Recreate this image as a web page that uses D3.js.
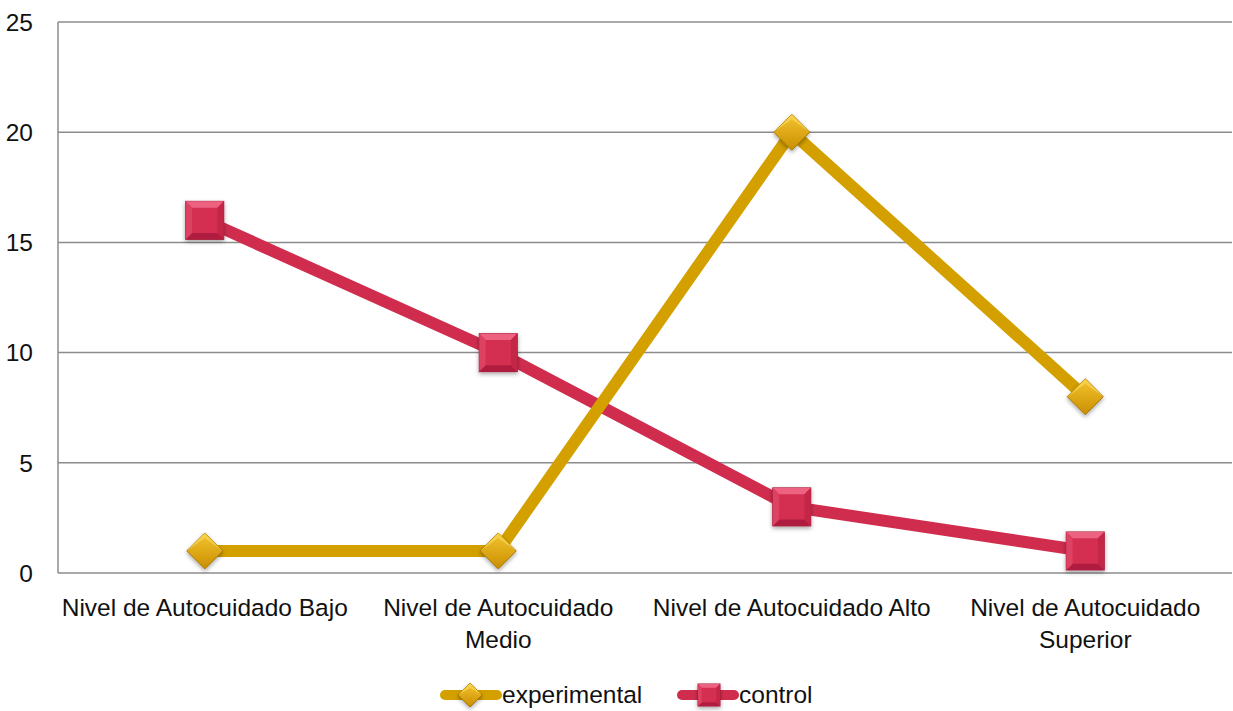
<!DOCTYPE html>
<html><head><meta charset="utf-8">
<script src="https://cdn.jsdelivr.net/npm/d3@7"></script>
<style>body{margin:0;background:#fff}svg{display:block}</style>
</head><body>
<svg id="c" width="1233" height="711"></svg>
<script>
const categories = ["Nivel de Autocuidado Bajo", "Nivel de Autocuidado Medio", "Nivel de Autocuidado Alto", "Nivel de Autocuidado Superior"];
const categoryLines = [["Nivel de Autocuidado Bajo"], ["Nivel de Autocuidado", "Medio"], ["Nivel de Autocuidado Alto"], ["Nivel de Autocuidado", "Superior"]];
const experimental = [1, 1, 20, 8];
const control = [16, 10, 3, 1];
const yTicks = [0, 5, 10, 15, 20, 25];
const seriesNames = ["experimental", "control"];

const svg = d3.select("#c");
const font = "'Liberation Sans', Arial, sans-serif";
const fs = 24.5;
const m = {l: 58, r: 1232, t: 22, b: 573};
const x = d3.scaleBand().domain(categories).range([m.l, m.r]);
const y = d3.scaleLinear().domain([0, 25]).range([m.b, m.t]);

const defs = svg.append("defs");
const gG = defs.append("linearGradient").attr("id", "gg").attr("x1", 0).attr("y1", 0).attr("x2", 0).attr("y2", 1);
gG.append("stop").attr("offset", 0).attr("stop-color", "#f4c430");
gG.append("stop").attr("offset", 1).attr("stop-color", "#c98f00");
const sh = defs.append("filter").attr("id", "sh").attr("x", "-50%").attr("y", "-50%").attr("width", "200%").attr("height", "200%");
sh.append("feDropShadow").attr("dx", 0).attr("dy", 2).attr("stdDeviation", 2).attr("flood-color", "#000").attr("flood-opacity", 0.35);

// gridlines
const grid = svg.append("g");
grid.selectAll("line").data(yTicks).join("line")
  .attr("x1", m.l).attr("x2", m.r).attr("y1", d => y(d)).attr("y2", d => y(d))
  .attr("stroke", "#8c8c8c").attr("stroke-width", 1.5);
svg.append("line").attr("x1", m.l).attr("x2", m.l).attr("y1", m.t).attr("y2", m.b)
  .attr("stroke", "#8c8c8c").attr("stroke-width", 1.5);

// y axis labels
const yAxis = d3.axisLeft(y).tickValues(yTicks).tickSize(0).tickPadding(25);
const ya = svg.append("g").attr("transform", `translate(${m.l},0)`).call(yAxis);
ya.select(".domain").remove();
ya.selectAll("text").attr("font-family", font).attr("font-size", fs).attr("fill", "#111").attr("dy", "0.34em");

// x labels
const xl = svg.append("g");
categories.forEach((c, i) => {
  const t = xl.append("text").attr("x", x(c) + x.bandwidth() / 2).attr("y", 616)
    .attr("text-anchor", "middle").attr("font-family", font).attr("font-size", fs).attr("fill", "#111");
  categoryLines[i].forEach((ln, j) => t.append("tspan").attr("x", x(c) + x.bandwidth() / 2).attr("dy", j ? 32 : 0).text(ln));
});

const cx = c => x(c) + x.bandwidth() / 2;
const line = d3.line().x((d, i) => cx(categories[i])).y(d => y(d));

svg.append("path").datum(control).attr("d", line).attr("fill", "none")
  .attr("stroke", "#d02d4e").attr("stroke-width", 12).attr("stroke-linejoin", "round");
svg.append("path").datum(experimental).attr("d", line).attr("fill", "none")
  .attr("stroke", "#d4a000").attr("stroke-width", 12).attr("stroke-linejoin", "round");

function square(g, px, py, s) {
  const h = s / 2, b = Math.max(3, s / 6);
  const gg = g.append("g").attr("transform", `translate(${px},${py})`).attr("filter", "url(#sh)");
  gg.append("rect").attr("x", -h).attr("y", -h).attr("width", s).attr("height", s).attr("fill", "#d42e51").attr("stroke", "#a51c3a").attr("stroke-width", 1);
  gg.append("polygon").attr("points", `${-h},${-h} ${h},${-h} ${h-b},${-h+b} ${-h+b},${-h+b}`).attr("fill", "#ee6281");
  gg.append("polygon").attr("points", `${-h},${h} ${h},${h} ${h-b},${h-b} ${-h+b},${h-b}`).attr("fill", "#b01f3f");
  gg.append("polygon").attr("points", `${-h},${-h} ${-h+b},${-h+b} ${-h+b},${h-b} ${-h},${h}`).attr("fill", "#de4262");
  gg.append("polygon").attr("points", `${h},${-h} ${h-b},${-h+b} ${h-b},${h-b} ${h},${h}`).attr("fill", "#c42646");
}
function diamond(g, px, py, s) {
  const h = s / 2;
  const gg = g.append("g").attr("transform", `translate(${px},${py})`).attr("filter", "url(#sh)");
  gg.append("polygon").attr("points", `0,${-h} ${h},0 0,${h} ${-h},0`).attr("fill", "url(#gg)").attr("stroke", "#a87800").attr("stroke-width", 1);
  gg.append("polygon").attr("points", `0,${-h} ${h},0 0,${-h+5} ${-h},0`).attr("fill", "#fbd653").attr("opacity", 0.7);
}

const mk = svg.append("g");
control.forEach((v, i) => square(mk, cx(categories[i]), y(v), 38));
experimental.forEach((v, i) => diamond(mk, cx(categories[i]), y(v), 36));

// legend
const lg = svg.append("g");
lg.append("line").attr("x1", 445).attr("x2", 497).attr("y1", 695).attr("y2", 695).attr("stroke", "#d4a000").attr("stroke-width", 10).attr("stroke-linecap", "round");
diamond(lg, 470, 695, 24);
lg.append("text").attr("x", 502).attr("y", 703).attr("font-family", font).attr("font-size", fs).attr("fill", "#111").text(seriesNames[0]);
lg.append("line").attr("x1", 682).attr("x2", 734).attr("y1", 695).attr("y2", 695).attr("stroke", "#d02d4e").attr("stroke-width", 10).attr("stroke-linecap", "round");
square(lg, 709, 695, 22);
lg.append("text").attr("x", 739).attr("y", 703).attr("font-family", font).attr("font-size", fs).attr("fill", "#111").text(seriesNames[1]);
</script>
</body></html>
